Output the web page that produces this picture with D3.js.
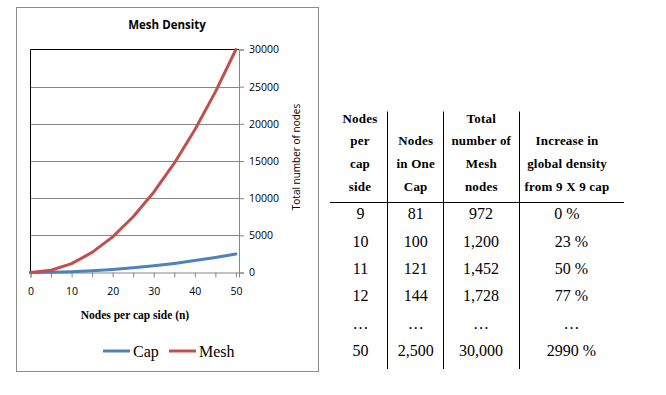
<!DOCTYPE html>
<html>
<head>
<meta charset="utf-8">
<script src="https://cdn.jsdelivr.net/npm/d3@7"></script>
<style>
  body { margin: 0; background: #fff; }
  svg { display: block; }
</style>
</head>
<body>
<script>
// chart data (n = nodes per cap side)
var sideN = [0, 5, 10, 15, 20, 25, 30, 35, 40, 45, 50];
var capNodes = [0, 25, 100, 225, 400, 625, 900, 1225, 1600, 2025, 2500];
var meshNodes = [0, 300, 1200, 2700, 4800, 7500, 10800, 14700, 19200, 24300, 30000];
var yTicks = [0, 5000, 10000, 15000, 20000, 25000, 30000];
var xTicks = [0, 10, 20, 30, 40, 50];

// table data
var headers = [
    ["Nodes", "per", "cap", "side"],
    ["", "Nodes", "in One", "Cap"],
    ["Total", "number of", "Mesh", "nodes"],
    ["", "Increase in", "global density", "from 9 X 9 cap"]
];
var tSide = [9, 10, 11, 12, null, 50];
var tCap = [81, 100, 121, 144, null, 2500];
var tMesh = [972, 1200, 1452, 1728, null, 30000];
var tIncrease = [0, 23, 50, 77, null, 2990];

var W = 666, H = 395;
var svg = d3.select("body").append("svg")
    .attr("width", W)
    .attr("height", H);

svg.append("rect").attr("width", W).attr("height", H).attr("fill", "#fff");

// chart frame
svg.append("rect")
    .attr("x", 16.5).attr("y", 7.5)
    .attr("width", 302).attr("height", 364)
    .attr("fill", "#fff")
    .attr("stroke", "#8c8c8c");

var plot = {left: 30.5, top: 49.5, right: 239, bottom: 272.5};

var x = d3.scaleLinear().domain([0, 50.75]).range([plot.left, plot.right]);
var y = d3.scaleLinear().domain([0, 30000]).range([plot.bottom, plot.top]);

svg.append("text")
    .attr("x", 167).attr("y", 29)
    .attr("text-anchor", "middle")
    .attr("font-family", "Open Sans, sans-serif")
    .attr("font-weight", "bold")
    .attr("font-size", 11.5)
    .text("Mesh Density");

// gridlines
svg.append("g")
    .selectAll("line")
    .data(yTicks.slice(1, -1))
    .enter().append("line")
    .attr("x1", plot.left).attr("x2", plot.right)
    .attr("y1", function(d) { return Math.round(y(d)) + 0.5; })
    .attr("y2", function(d) { return Math.round(y(d)) + 0.5; })
    .attr("stroke", "#868686");

// plot area border (black left and top)
svg.append("path")
    .attr("d", "M" + plot.left + "," + plot.bottom + "V" + plot.top + "H" + plot.right)
    .attr("fill", "none")
    .attr("stroke", "#000");

// right y axis
var yAxis = svg.append("g")
    .attr("transform", "translate(" + plot.right + ",0)")
    .call(d3.axisRight(y).tickValues(yTicks).tickSize(5).tickPadding(5).tickFormat(d3.format("d")));
yAxis.select(".domain").attr("stroke", "#868686");
yAxis.selectAll(".tick line").attr("stroke", "#868686");
yAxis.selectAll("text")
    .attr("font-family", "Open Sans, sans-serif")
    .attr("font-size", 10.5)
    .attr("fill", "#000");

// bottom x axis
var xAxis = svg.append("g")
    .attr("transform", "translate(0," + plot.bottom + ")")
    .call(d3.axisBottom(x).tickValues(d3.range(0, 51, 5)).tickSize(5).tickPadding(10)
        .tickFormat(function(d) { return xTicks.indexOf(d) >= 0 ? d : ""; }));
xAxis.select(".domain").attr("stroke", "#868686");
xAxis.selectAll(".tick line").attr("stroke", "#868686");
xAxis.selectAll("text")
    .attr("font-family", "Open Sans, sans-serif")
    .attr("font-size", 10.5)
    .attr("fill", "#000");

svg.append("text")
    .attr("x", 135).attr("y", 319)
    .attr("text-anchor", "middle")
    .attr("font-family", "Liberation Serif, serif")
    .attr("font-weight", "bold")
    .attr("font-size", 11.5)
    .text("Nodes per cap side (n)");

svg.append("text")
    .attr("transform", "translate(300,157) rotate(-90)")
    .attr("text-anchor", "middle")
    .attr("font-family", "Open Sans, sans-serif")
    .attr("font-size", 10)
    .text("Total number of nodes");

// lines
var series = [
    {name: "Cap", values: capNodes, color: "#4f81bd"},
    {name: "Mesh", values: meshNodes, color: "#c0504d"}
];
var line = d3.line()
    .x(function(d, i) { return x(sideN[i]); })
    .y(function(d) { return y(d); });

svg.append("g")
    .selectAll("path")
    .data(series)
    .enter().append("path")
    .attr("d", function(d) { return line(d.values); })
    .attr("fill", "none")
    .attr("stroke", function(d) { return d.color; })
    .attr("stroke-width", 3)
    .attr("stroke-linejoin", "round")
    .attr("stroke-linecap", "round");

// legend
var legend = svg.append("g")
    .selectAll("g")
    .data(series)
    .enter().append("g")
    .attr("transform", function(d, i) { return "translate(" + [103, 169][i] + ",351)"; });
legend.append("line")
    .attr("x1", 0).attr("x2", 27)
    .attr("stroke", function(d) { return d.color; })
    .attr("stroke-width", 3);
legend.append("text")
    .attr("x", 30).attr("y", 5.5)
    .attr("font-family", "Liberation Serif, serif")
    .attr("font-size", 16)
    .text(function(d) { return d.name; });

// table
var colX = [360, 415.7, 481.3, 567];
var dataColX = [360.5, 415.8, 481, 571.5];
var fmt = d3.format(",");
var tbl = svg.append("g")
    .attr("font-family", "Liberation Serif, serif");

headers.forEach(function(col, c) {
    tbl.append("g")
        .selectAll("text")
        .data(col)
        .enter().append("text")
        .attr("x", colX[c])
        .attr("y", function(d, i) { return 122.7 + i * 22.7; })
        .attr("text-anchor", "middle")
        .attr("font-weight", "bold")
        .attr("font-size", 13)
        .attr("letter-spacing", 0.2)
        .text(function(d) { return d; });
});

var cols = [
    tSide.map(function(d) { return d == null ? "…" : String(d); }),
    tCap.map(function(d) { return d == null ? "…" : fmt(d); }),
    tMesh.map(function(d) { return d == null ? "…" : fmt(d); }),
    tIncrease.map(function(d) { return d == null ? "…" : d + " %"; })
];
cols.forEach(function(col, c) {
    tbl.append("g")
        .selectAll("text")
        .data(col)
        .enter().append("text")
        .attr("x", function(d, i) { return (c == 3 && i == 0) ? colX[3] : dataColX[c]; })
        .attr("y", function(d, i) { return 219.3 + i * 27.35; })
        .attr("text-anchor", "middle")
        .attr("font-size", 16)
        .text(function(d) { return d; });
});

svg.append("line")
    .attr("x1", 330).attr("x2", 624)
    .attr("y1", 202.5).attr("y2", 202.5)
    .attr("stroke", "#000");

svg.append("g")
    .selectAll("line")
    .data([387.5, 443.5, 519.5])
    .enter().append("line")
    .attr("x1", function(d) { return d; })
    .attr("x2", function(d) { return d; })
    .attr("y1", 111.5).attr("y2", 369)
    .attr("stroke", "#000");
</script>
</body>
</html>
